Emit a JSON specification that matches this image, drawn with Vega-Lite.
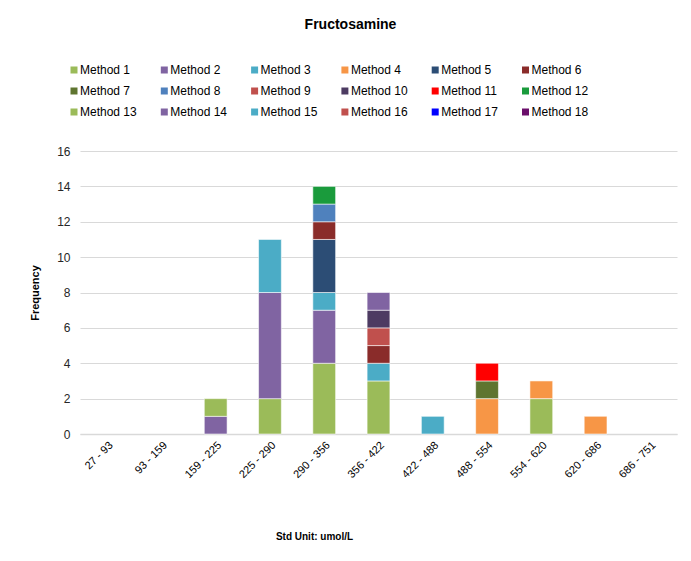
{
  "$schema": "https://vega.github.io/schema/vega-lite/v6.json",
  "autosize": {"type": "none"},
  "padding": {"left": 80, "top": 151, "right": 14, "bottom": 127},
  "width": 597,
  "height": 283,
  "background": "white",
  "title": {
    "text": "Fructosamine",
    "font": "Liberation Sans",
    "fontSize": 14,
    "fontWeight": "bold",
    "color": "#000000",
    "anchor": "middle",
    "frame": "group",
    "offset": 32,
    "dx": -28
  },
  "data": {
    "values": [
      {"bin": "159 - 225", "method": "Method 2", "k": 2, "count": 1},
      {"bin": "159 - 225", "method": "Method 13", "k": 13, "count": 1},
      {"bin": "225 - 290", "method": "Method 1", "k": 1, "count": 2},
      {"bin": "225 - 290", "method": "Method 2", "k": 2, "count": 6},
      {"bin": "225 - 290", "method": "Method 3", "k": 3, "count": 3},
      {"bin": "290 - 356", "method": "Method 1", "k": 1, "count": 4},
      {"bin": "290 - 356", "method": "Method 2", "k": 2, "count": 3},
      {"bin": "290 - 356", "method": "Method 3", "k": 3, "count": 1},
      {"bin": "290 - 356", "method": "Method 5", "k": 5, "count": 3},
      {"bin": "290 - 356", "method": "Method 6", "k": 6, "count": 1},
      {"bin": "290 - 356", "method": "Method 8", "k": 8, "count": 1},
      {"bin": "290 - 356", "method": "Method 12", "k": 12, "count": 1},
      {"bin": "356 - 422", "method": "Method 1", "k": 1, "count": 3},
      {"bin": "356 - 422", "method": "Method 3", "k": 3, "count": 1},
      {"bin": "356 - 422", "method": "Method 6", "k": 6, "count": 1},
      {"bin": "356 - 422", "method": "Method 9", "k": 9, "count": 1},
      {"bin": "356 - 422", "method": "Method 10", "k": 10, "count": 1},
      {"bin": "356 - 422", "method": "Method 14", "k": 14, "count": 1},
      {"bin": "422 - 488", "method": "Method 3", "k": 3, "count": 1},
      {"bin": "488 - 554", "method": "Method 4", "k": 4, "count": 2},
      {"bin": "488 - 554", "method": "Method 7", "k": 7, "count": 1},
      {"bin": "488 - 554", "method": "Method 11", "k": 11, "count": 1},
      {"bin": "554 - 620", "method": "Method 1", "k": 1, "count": 2},
      {"bin": "554 - 620", "method": "Method 4", "k": 4, "count": 1},
      {"bin": "620 - 686", "method": "Method 4", "k": 4, "count": 1}
    ]
  },
  "mark": {"type": "bar", "stroke": "#ffffff", "strokeWidth": 0.8, "strokeOpacity": 0.7},
  "encoding": {
    "x": {
      "field": "bin",
      "type": "nominal",
      "sort": ["27 - 93", "93 - 159", "159 - 225", "225 - 290", "290 - 356", "356 - 422", "422 - 488", "488 - 554", "554 - 620", "620 - 686", "686 - 751"],
      "scale": {
        "domain": ["27 - 93", "93 - 159", "159 - 225", "225 - 290", "290 - 356", "356 - 422", "422 - 488", "488 - 554", "554 - 620", "620 - 686", "686 - 751"],
        "paddingInner": 0.58,
        "paddingOuter": 0.29
      },
      "axis": {
        "title": "Std Unit: umol/L",
        "titleFont": "Liberation Sans",
        "titleFontSize": 10,
        "titleFontWeight": "bold",
        "titleColor": "#000000",
        "titleX": 234,
        "titleY": 102,
        "titleAlign": "center",
        "titleBaseline": "middle",
        "labelAngle": -45,
        "labelFont": "Liberation Sans",
        "labelFontSize": 11,
        "labelColor": "#000000",
        "labelPadding": 5,
        "ticks": false,
        "domainColor": "#d9d9d9",
        "domainWidth": 1.5,
        "grid": false
      }
    },
    "y": {
      "field": "count",
      "type": "quantitative",
      "aggregate": "sum",
      "stack": "zero",
      "scale": {"domain": [0, 16], "nice": false},
      "axis": {
        "title": "Frequency",
        "titleFont": "Liberation Sans",
        "titleFontSize": 11,
        "titleFontWeight": "bold",
        "titleColor": "#000000",
        "titlePadding": 16,
        "values": [0, 2, 4, 6, 8, 10, 12, 14, 16],
        "labelFont": "Liberation Sans",
        "labelFontSize": 12,
        "labelColor": "#262626",
        "labelPadding": 10,
        "ticks": false,
        "domain": false,
        "grid": true,
        "gridColor": "#d9d9d9",
        "gridWidth": 1.2
      }
    },
    "color": {
      "field": "method",
      "type": "nominal",
      "scale": {
        "domain": ["Method 1", "Method 2", "Method 3", "Method 4", "Method 5", "Method 6", "Method 7", "Method 8", "Method 9", "Method 10", "Method 11", "Method 12", "Method 13", "Method 14", "Method 15", "Method 16", "Method 17", "Method 18"],
        "range": ["#9bbb59", "#8064a2", "#4bacc6", "#f79646", "#2c4d75", "#8a2c2a", "#5f7530", "#4f81bd", "#c0504d", "#4d3b62", "#ff0000", "#1a9b3c", "#9bbb59", "#8064a2", "#4bacc6", "#c0504d", "#0000ff", "#6b0f6b"]
      },
      "legend": {
        "title": null,
        "orient": "none",
        "legendX": -12,
        "legendY": -87,
        "direction": "horizontal",
        "columns": 6,
        "columnPadding": 21.3,
        "rowPadding": 9,
        "padding": 0,
        "symbolType": "square",
        "symbolSize": 49,
        "symbolStrokeWidth": 0,
        "labelOffset": 0,
        "labelFont": "Liberation Sans",
        "labelFontSize": 12,
        "labelColor": "#000000",
        "labelLimit": 200
      }
    },
    "order": {"field": "k", "type": "quantitative", "sort": "ascending"}
  },
  "config": {"view": {"stroke": null}}
}
